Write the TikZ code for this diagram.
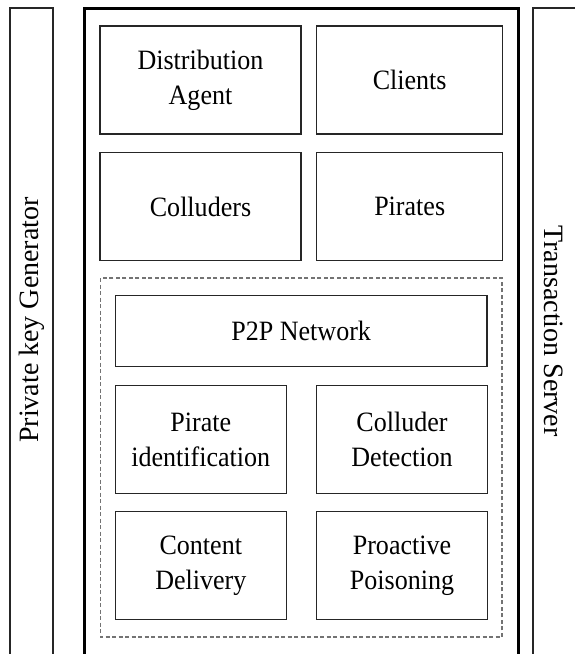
\documentclass[tikz,border=0pt]{standalone}
\usepackage{fontspec}
\setmainfont{Liberation Serif}[FakeStretch=0.93]
\newfontfamily\sidefont{Liberation Serif}
\begin{document}
\begin{tikzpicture}[x=1pt,y=-1pt,
  box/.style={draw=black!85, line width=1.1pt, inner sep=0pt, align=center,
    font=\fontsize{28}{35}\selectfont},
  cell/.style={box, minimum width=201pt, minimum height=108pt},
  small/.style={box, minimum width=170.5pt, minimum height=107.5pt},
  side/.style={draw=black!85, line width=1.1pt},
  sidetext/.style={font=\sidefont\fontsize{28}{33}\selectfont}
]
\useasboundingbox (0,0) rectangle (575,654);
\clip (0,0) rectangle (575,654);

% side panels
\draw[side] (10,670) -- (10,8) -- (53,8) -- (53,670);
\draw[side] (533,670) -- (533,8) -- (590,8);
\node[sidetext, rotate=90] (pkg) at (32,320) {Private key Generator};
\node[sidetext, rotate=-90] (ts) at (554,331) {Transaction Server};

% main frame
\draw[line width=3pt] (84,670) -- (84,8) -- (518,8) -- (518,670);

% upper cells
\node[cell] (da) at (200.5,80) {Distribution\\Agent};
\node[cell, minimum width=186pt] (cl) at (409.7,80) {Clients};
\node[cell] (co) at (200.5,206.6) {Colluders};
\node[cell, minimum width=186pt] (pi) at (409.7,206.6) {Pirates};

% network group
\draw[draw=black!55, dashed, line width=1.1pt, dash pattern=on 4pt off 2.5pt] (100.7,278) rectangle (502,637);
\node[box, minimum width=371.5pt, minimum height=71pt] (p2p) at (301.2,331.3) {P2P Network};
\node[small] (pid) at (200.8,439.5) {Pirate\\identification};
\node[small] (cd) at (402,439.5) {Colluder\\Detection};
\node[small] (cdl) at (200.8,565.3) {Content\\Delivery};
\node[small] (pp) at (402,565.3) {Proactive\\Poisoning};
\end{tikzpicture}
\end{document}
